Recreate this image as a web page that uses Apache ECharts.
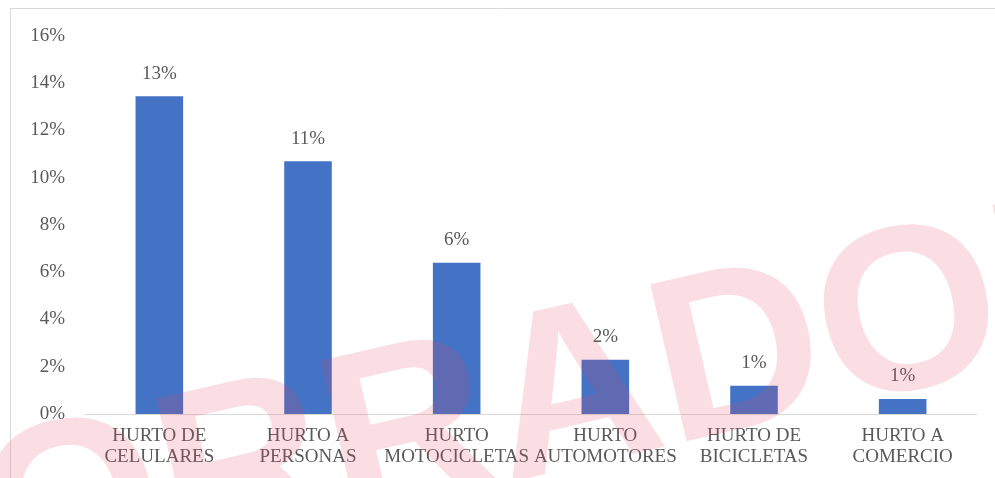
<!DOCTYPE html>
<html>
<head>
<meta charset="utf-8">
<script src="https://cdn.jsdelivr.net/npm/echarts@6/dist/echarts.min.js"></script>
<style>
html, body { margin: 0; padding: 0; background: #fff; }
#chart { width: 995px; height: 478px; }
</style>
</head>
<body>
<div id="chart"></div>
<script>
// categorias y porcentajes
let categorias = ['HURTO DE\nCELULARES', 'HURTO A\nPERSONAS', 'HURTO\nMOTOCICLETAS', 'HURTO\nAUTOMOTORES', 'HURTO DE\nBICICLETAS', 'HURTO A\nCOMERCIO'];
let valores = [13.45, 10.7, 6.4, 2.3, 1.2, 0.64];
let ticksY = [0, 2, 4, 6, 8, 10, 12, 14, 16];

let fuente = 'Liberation Serif';
let gris = '#595959';

let mychart = echarts.init(document.getElementById('chart'));

let option = {
    animation: false,
    grid: {
        left: 85,
        right: 18,
        top: 36,
        bottom: 64
    },
    xAxis: {
        type: 'category',
        data: categorias,
        axisLine: { lineStyle: { color: '#d9d9d9', width: 1 } },
        axisTick: { show: false },
        axisLabel: {
            color: gris,
            fontFamily: fuente,
            fontSize: 19,
            lineHeight: 21,
            margin: 12,
            interval: 0
        }
    },
    yAxis: {
        type: 'value',
        min: ticksY[0],
        max: ticksY[ticksY.length - 1],
        interval: 2,
        splitLine: { show: false },
        axisLine: { show: false },
        axisTick: { show: false },
        axisLabel: {
            color: gris,
            fontFamily: fuente,
            fontSize: 19,
            margin: 20,
            formatter: function (v) { return v + '%'; }
        }
    },
    series: [
        {
            type: 'bar',
            data: valores,
            barWidth: '32%',
            itemStyle: { color: '#4472c4' },
            label: {
                show: true,
                position: 'top',
                distance: 13,
                color: gris,
                fontFamily: fuente,
                fontSize: 19,
                formatter: function (p) { return Math.round(p.value) + '%'; }
            }
        }
    ],
    graphic: [
        {
            type: 'rect',
            left: 8,
            top: 6,
            shape: { width: 1000, height: 500 },
            style: { fill: 'none', stroke: '#d9d9d9', lineWidth: 1 },
            z: -1
        },
        {
            // marca de agua
            type: 'text',
            x: 492,
            y: 420,
            rotation: 0.227,
            z: 100,
            style: {
                text: 'BORRADOR',
                font: 'bold 234px "Liberation Sans"',
                fill: 'rgba(230, 70, 100, 0.18)',
                align: 'center',
                verticalAlign: 'middle'
            }
        }
    ]
};

mychart.setOption(option);
</script>
</body>
</html>
